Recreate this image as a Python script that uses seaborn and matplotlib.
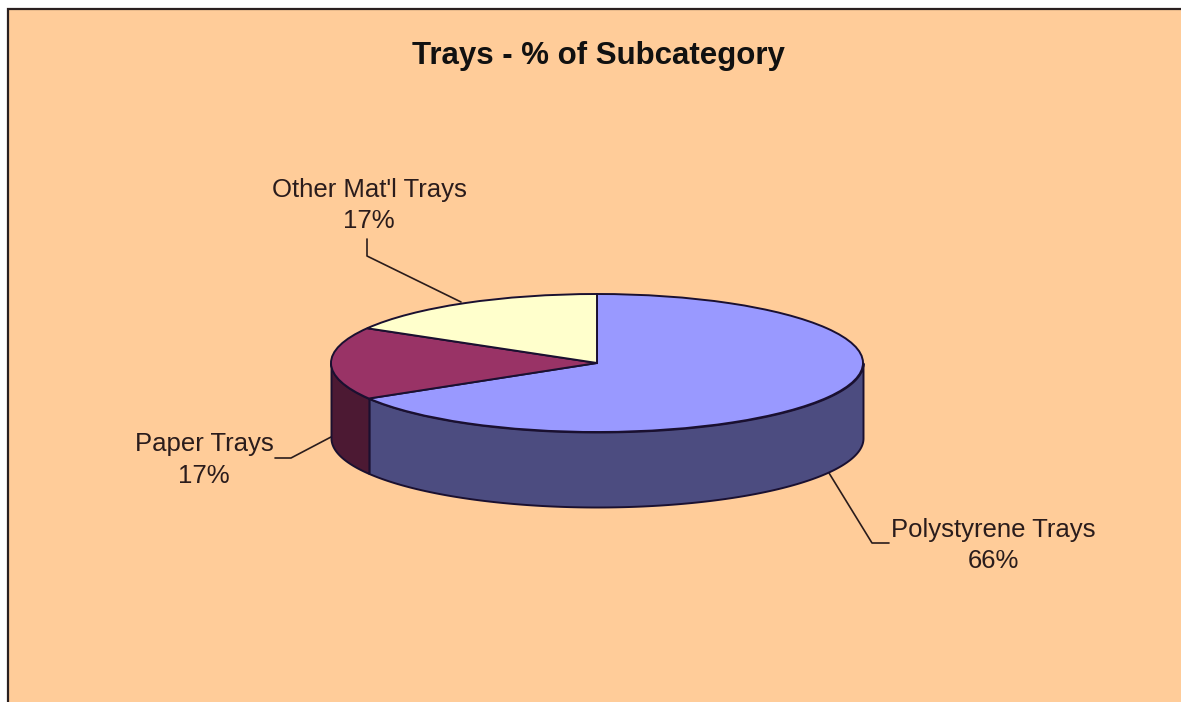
import numpy as np
import matplotlib
matplotlib.use('Agg')
import matplotlib.pyplot as plt
from matplotlib.patches import Rectangle
import seaborn as sns

title = 'Trays - % of Subcategory'
categories = ['Polystyrene Trays', 'Paper Trays', "Other Mat'l Trays"]
shares = [66.4, 17.0, 16.6]
top_colors = ['#9999FF', '#993366', '#FFFFCC']
side_colors = ['#4C4C80', '#4C1933', '#808066']

W, H = 1181, 702
cx, cy = 597, 363
rx, ry = 266, 69
depth = 75 / ry

sns.set_style('white')
plt.rcParams['font.family'] = ['Liberation Sans', 'DejaVu Sans']

fig = plt.figure(figsize=(W / 100, H / 100), dpi=100, facecolor='white')

# background panel, in pixel coordinates
bg = fig.add_axes([0, 0, 1, 1])
bg.set_xlim(0, W)
bg.set_ylim(H, 0)
bg.axis('off')
bg.add_patch(Rectangle((8, 9), W - 8, H - 9, facecolor='#FFCC99', edgecolor='none'))
bg.plot([8, 8, W], [H, 9, 9], color='#2a2020', lw=1.6, solid_joinstyle='miter')

# pie axes squashed into an ellipse
ax = fig.add_axes([(cx - rx) / W, 1 - (cy + ry) / H, 2 * rx / W, 2 * ry / H])
ax.patch.set_alpha(0)

edges = np.cumsum([0] + shares) / sum(shares) * 360
for i, color in enumerate(side_colors):
    start, end = max(edges[i], 90), min(edges[i + 1], 270)
    if start >= end:
        continue
    theta = np.radians(np.linspace(start, end, 200))
    x, y = np.sin(theta), np.cos(theta)
    ax.fill_between(x, y, y - depth, facecolor=color, edgecolor='#1a1030', lw=1.4, clip_on=False)

wedges, _ = ax.pie(shares, colors=top_colors, startangle=90, counterclock=False,
                   wedgeprops={'edgecolor': '#1a1030', 'linewidth': 1.4})
for w in wedges:
    w.set_clip_on(False)
ax.set_aspect('auto')
ax.set_xlim(-1, 1)
ax.set_ylim(-1, 1)

# labels and leader lines
text_color = '#2a1c1c'
bg.text(598, 56, title, ha='center', va='center', fontsize=22.5, fontweight='bold', color='#111111')
label_pos = [(993, 545.5), (204, 460), (369, 205.5)]
leaders = [
    ([829, 872, 889], [473, 543, 543]),
    ([331, 291, 275], [437, 458, 458]),
    ([461, 367, 367], [302, 256, 239]),
]
for name, share, (lx, ly), (px, py) in zip(categories, shares, label_pos, leaders):
    bg.text(lx, ly, f'{name}\n{round(share)}%', ha='center', va='center', fontsize=18.5,
            color=text_color, linespacing=1.38)
    bg.plot(px, py, color=text_color, lw=1.2)

fig.savefig('out.png', dpi=100)
